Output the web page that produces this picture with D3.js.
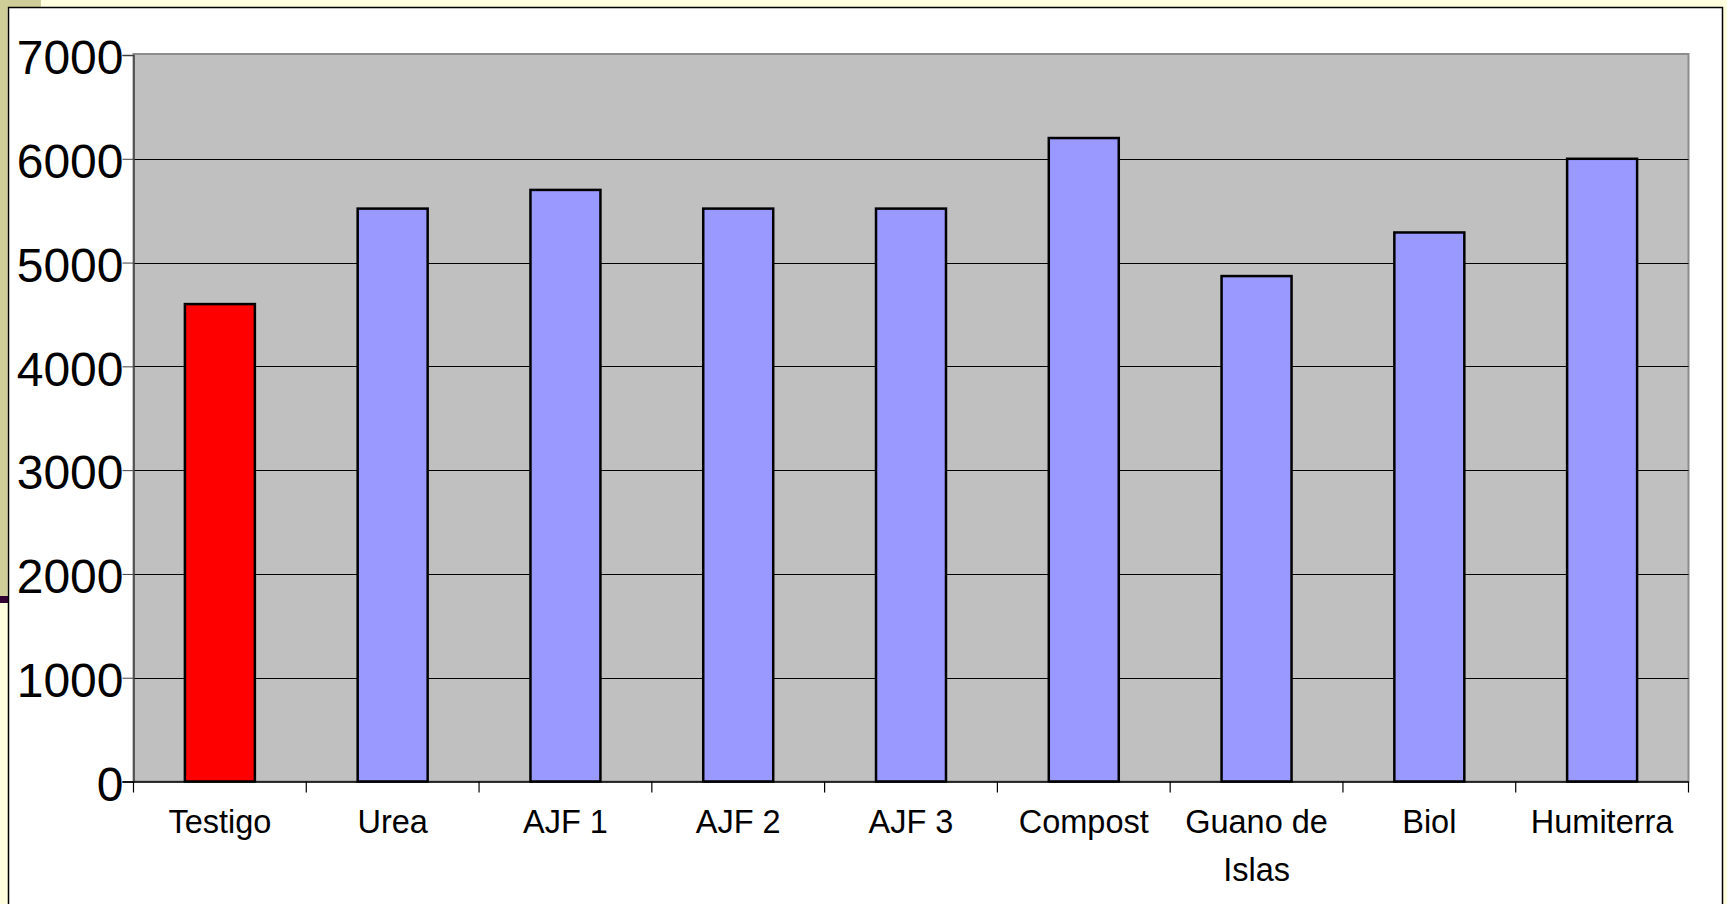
<!DOCTYPE html>
<html>
<head>
<meta charset="utf-8">
<script src="https://cdn.jsdelivr.net/npm/d3@7/dist/d3.min.js"></script>
<style>
  html, body { margin: 0; padding: 0; background: #FFFFE0; overflow: hidden; }
  svg { display: block; }
  text { font-family: "Liberation Sans", Arial, sans-serif; fill: #000; }
</style>
</head>
<body>
<svg id="chart" width="1727" height="904"></svg>
<script>
// ---- data ----
const categories = ["Testigo", "Urea", "AJF 1", "AJF 2", "AJF 3", "Compost", "Guano de Islas", "Biol", "Humiterra"];
const categoryLines = [["Testigo"], ["Urea"], ["AJF 1"], ["AJF 2"], ["AJF 3"], ["Compost"], ["Guano de", "Islas"], ["Biol"], ["Humiterra"]];
const values = [4600, 5520, 5700, 5520, 5520, 6200, 4870, 5290, 6000];
const yTicks = [0, 1000, 2000, 3000, 4000, 5000, 6000, 7000];
const highlighted = ["Testigo"];

// ---- layout ----
const W = 1727, H = 904;
const plot = { left: 133.5, right: 1688.5, top: 55, bottom: 781.5 };

const svg = d3.select("#chart");

// page decoration
svg.append("rect").attr("x", 0).attr("y", 0).attr("width", W).attr("height", H).attr("fill", "#FFFFE0");
svg.append("rect").attr("x", 0).attr("y", 0).attr("width", 41).attr("height", 7).attr("fill", "#CFCD98");
svg.append("rect").attr("x", 0).attr("y", 0).attr("width", 7.5).attr("height", 596).attr("fill", "#CFCD98");
svg.append("rect").attr("x", 0).attr("y", 596).attr("width", 8).attr("height", 7).attr("fill", "#330033");

// chart area
svg.append("rect").attr("x", 8.5).attr("y", 7.5).attr("width", 1714).attr("height", 920)
  .attr("fill", "#FFFFFF").attr("stroke", "#000").attr("stroke-width", 1.5);

const x = d3.scaleBand().domain(categories).range([plot.left, plot.right]).paddingInner(0).paddingOuter(0);
const y = d3.scaleLinear().domain([0, 7000]).range([plot.bottom, plot.top]);
const barW = x.bandwidth() * 0.405;

// plot background
svg.append("rect")
  .attr("x", plot.left).attr("y", y(7000) - 1)
  .attr("width", plot.right - plot.left).attr("height", plot.bottom - y(7000) + 1)
  .attr("fill", "#C0C0C0").attr("stroke", "#8C8C8C").attr("stroke-width", 2);

// gridlines
svg.append("g").selectAll("line").data(yTicks.filter(d => d > 0 && d < 7000)).join("line")
  .attr("x1", plot.left).attr("x2", plot.right)
  .attr("y1", d => Math.round(y(d)) + 0.5).attr("y2", d => Math.round(y(d)) + 0.5)
  .attr("stroke", "#000").attr("stroke-width", 1);

// bars
svg.append("g").selectAll("rect").data(categories).join("rect")
  .attr("x", d => x(d) + (x.bandwidth() - barW) / 2)
  .attr("y", (d, i) => y(values[i]))
  .attr("width", barW)
  .attr("height", (d, i) => y(0) - y(values[i]))
  .attr("fill", d => highlighted.includes(d) ? "#FF0000" : "#9999FF")
  .attr("stroke", "#000").attr("stroke-width", 2.5);

// y axis
const yAxis = svg.append("g").attr("transform", `translate(${plot.left},0)`)
  .call(d3.axisLeft(y).tickValues(yTicks).tickSize(11).tickPadding(-1).tickFormat(d3.format("d")));
yAxis.select(".domain").attr("stroke", "#404040").attr("stroke-width", 1.5);
yAxis.selectAll(".tick line").attr("stroke", "#404040");
yAxis.selectAll(".tick text").attr("font-size", 48).attr("font-family", "Liberation Sans, Arial, sans-serif")
  .attr("dy", "0.39em").attr("fill", "#000");

// x axis line + ticks at band boundaries
const xg = svg.append("g");
xg.append("line").attr("x1", plot.left - 11).attr("x2", plot.right)
  .attr("y1", plot.bottom + 0.5).attr("y2", plot.bottom + 0.5).attr("stroke", "#000").attr("stroke-width", 1.5);
const boundaries = categories.map(d => x(d)).concat([x(categories[categories.length - 1]) + x.bandwidth()]);
xg.selectAll("line.tk").data(boundaries).join("line").attr("class", "tk")
  .attr("x1", d => d).attr("x2", d => d)
  .attr("y1", plot.bottom).attr("y2", plot.bottom + 11)
  .attr("stroke", "#000").attr("stroke-width", 1.2);

// x labels
const lbl = xg.selectAll("text").data(categories).join("text")
  .attr("x", d => x(d) + x.bandwidth() / 2)
  .attr("y", 833)
  .attr("text-anchor", "middle")
  .attr("font-size", 32.5);
lbl.each(function(d, i) {
  const t = d3.select(this);
  categoryLines[i].forEach((line, j) => {
    t.append("tspan").attr("x", x(d) + x.bandwidth() / 2).attr("dy", j === 0 ? 0 : 48).text(line);
  });
});
</script>
</body>
</html>
